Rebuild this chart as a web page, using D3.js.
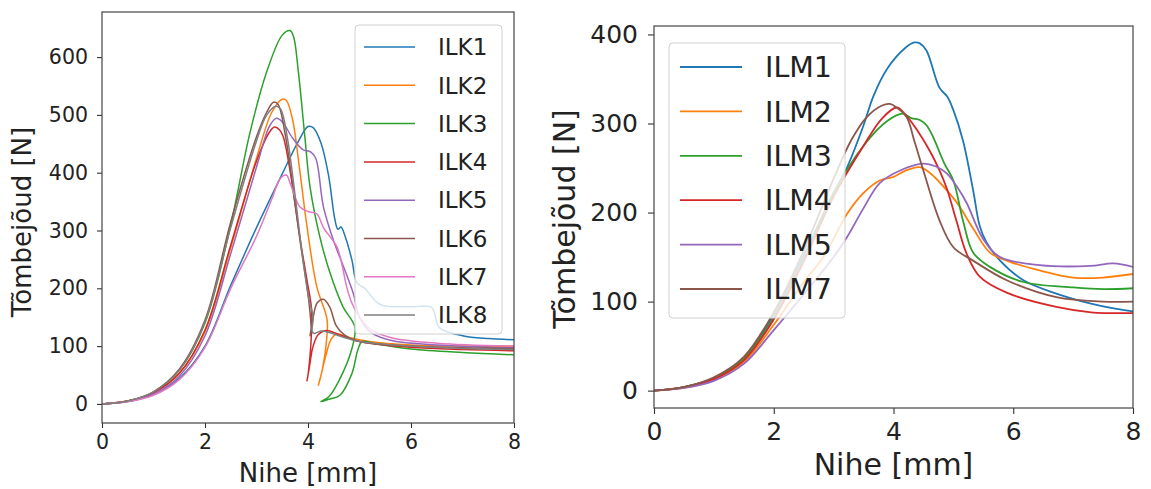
<!DOCTYPE html>
<html><head><meta charset="utf-8">
<script src="https://cdn.jsdelivr.net/npm/d3@7"></script>
<style>
html,body{margin:0;padding:0;background:#fff;}
svg text{font-family:"DejaVu Sans",sans-serif;fill:#222;}
</style></head>
<body><svg id="c" width="1151" height="489"></svg>
<script>
// ---------- DATA ----------
const xTicks = [0, 2, 4, 6, 8];
const leftYTicks = [0, 100, 200, 300, 400, 500, 600];
const rightYTicks = [0, 100, 200, 300, 400];
const xLabel = "Nihe [mm]";
const yLabel = "Tõmbejõud [N]";
const leftNames = ["ILK1","ILK2","ILK3","ILK4","ILK5","ILK6","ILK7","ILK8"];
const rightNames = ["ILM1","ILM2","ILM3","ILM4","ILM5","ILM7"];
const leftColors = ["#1f77b4","#ff7f0e","#2ca02c","#d62728","#9467bd","#8c564b","#e377c2","#7f7f7f"];
const rightColors = ["#1f77b4","#ff7f0e","#2ca02c","#d62728","#9467bd","#8c564b"];

const ilk1 = [[0,0],[0.5,4],[1,16],[1.5,44],[2,100],[2.5,205],[3,305],[3.5,398],[3.8,452],[4.0,480],[4.1,478],[4.25,452],[4.4,395],[4.52,320],[4.58,302],[4.64,306],[4.72,290],[4.85,250],[4.95,210],[5.1,200],[5.4,172],[6.0,168],[6.4,167],[6.55,132],[7,118],[7.5,113],[8,111]];
const ilk2 = [[0,0],[0.5,5],[1,19],[1.5,52],[2,125],[2.5,270],[3,425],[3.3,505],[3.5,527],[3.58,525],[3.7,492],[3.84,404],[3.98,307],[4.17,203],[4.37,146],[4.36,110],[4.28,60],[4.2,32],[4.24,45],[4.35,85],[4.45,112],[4.56,121],[4.8,115],[5.2,108],[6,102],[7,100],[8,100]];
const ilk3 = [[0,0],[0.5,5],[1,20],[1.5,58],[2,140],[2.5,310],[2.87,468],[3.2,575],[3.5,638],[3.65,646],[3.72,635],[3.81,577],[3.94,461],[4.04,375],[4.23,289],[4.43,226],[4.68,168],[4.91,133],[4.85,95],[4.6,40],[4.4,12],[4.25,4],[4.4,8],[4.62,15],[4.85,52],[4.97,94],[5.05,108],[5.3,104],[6,95],[7,89],[8,85]];
const ilk4 = [[0,0],[0.5,5],[1,19],[1.5,53],[2,128],[2.5,275],[3,420],[3.25,470],[3.35,479],[3.45,474],[3.52,462],[3.65,404],[3.84,289],[3.98,214],[4.07,163],[4.06,110],[4.0,50],[3.98,40],[4.02,60],[4.1,100],[4.2,120],[4.35,127],[4.6,120],[5,108],[6,98],[7,94],[8,92]];
const ilk5 = [[0,0],[0.5,4],[1,17],[1.5,48],[2,118],[2.5,260],[3,410],[3.25,480],[3.38,494],[3.5,488],[3.7,460],[3.9,440],[4.05,436],[4.15,425],[4.3,341],[4.49,284],[4.7,235],[4.88,191],[5.0,150],[5.2,125],[5.6,110],[6.5,102],[8,97]];
const ilk6 = [[0,0],[0.5,5],[1,21],[1.5,60],[2,145],[2.5,315],[3,462],[3.2,505],[3.33,522],[3.42,518],[3.55,470],[3.7,380],[3.85,280],[4.0,190],[4.06,130],[4.04,118],[4.1,150],[4.18,175],[4.3,181],[4.42,168],[4.55,135],[4.7,120],[5,108],[6,100],[7,97],[8,96]];
const ilk7 = [[0,0],[0.5,4],[1,15],[1.5,42],[2,98],[2.5,200],[3,290],[3.3,355],[3.46,390],[3.58,396],[3.66,380],[3.84,341],[4.0,333],[4.17,329],[4.3,305],[4.56,272],[4.65,245],[4.75,203],[4.85,175],[5.0,150],[5.2,130],[5.6,115],[6.5,105],[8,100]];
const ilk8 = [[0,0],[0.5,5],[1,21],[1.5,58],[2,142],[2.5,305],[3,455],[3.2,500],[3.38,515],[3.47,510],[3.6,460],[3.75,360],[3.9,250],[4.02,180],[4.1,150],[4.08,125],[4.12,122],[4.25,126],[4.4,124],[4.7,115],[5,108],[6,100],[7,96],[8,94]];

const ilm1 = [[0,0],[0.5,4],[1,14],[1.5,37],[2,85],[2.5,152],[3,222],[3.22,250],[3.5,298],[3.66,330],[3.9,362],[4.2,385],[4.35,391],[4.44,390],[4.55,382],[4.77,340],[4.9,330],[5.0,315],[5.16,281],[5.33,225],[5.44,185],[5.55,167],[5.78,146],[6.17,124],[6.72,109],[7.28,98],[7.7,92],[8,89]];
const ilm2 = [[0,0],[0.5,3],[1,12],[1.5,32],[2,74],[2.5,122],[2.83,150],[3.22,198],[3.5,222],[3.77,236],[4.0,240],[4.2,247],[4.44,251],[4.6,245],[4.77,234],[5.05,212],[5.33,182],[5.61,155],[5.89,146],[6.44,135],[7.0,127],[7.5,127],[8,131]];
const ilm3 = [[0,0],[0.5,4],[1,14],[1.5,36],[2,82],[2.5,148],[3,222],[3.5,275],[3.9,303],[4.16,311],[4.3,306],[4.44,304],[4.55,298],[4.66,285],[4.85,255],[5.0,236],[5.16,191],[5.33,155],[5.61,139],[6.17,122],[7,116],[7.5,114],[8,115]];
const ilm4 = [[0,0],[0.5,4],[1,13],[1.5,34],[2,80],[2.5,145],[3,218],[3.5,275],[3.8,305],[4.05,318],[4.2,310],[4.39,293],[4.6,270],[4.77,247],[4.9,225],[5.05,191],[5.22,154],[5.44,128],[5.89,110],[6.72,94],[7.3,88],[8,87]];
const ilm5 = [[0,0],[0.5,3],[1,11],[1.5,30],[2,68],[2.5,108],[3,150],[3.22,172],[3.5,205],[3.77,233],[4.1,247],[4.5,255],[4.7,252],[4.89,244],[5.05,230],[5.22,211],[5.5,170],[5.78,150],[6.44,141],[7.28,140],[7.67,143],[8,139]];
const ilm7 = [[0,0],[0.5,4],[1,15],[1.5,38],[2,88],[2.5,157],[3,238],[3.3,282],[3.55,307],[3.8,320],[3.94,322],[4.05,318],[4.22,307],[4.35,280],[4.5,247],[4.77,191],[5.0,161],[5.33,146],[5.89,124],[6.72,105],[7.5,100],[8,100]];

const leftSeries = [ilk1, ilk2, ilk3, ilk4, ilk5, ilk6, ilk7, ilk8];
const rightSeries = [ilm1, ilm2, ilm3, ilm4, ilm5, ilm7];

// ---------- DRAW ----------
const svg = d3.select("#c");

function panel(cfg) {
  const g = svg.append("g");
  const x = d3.scaleLinear().domain([0, 8]).range([cfg.x0, cfg.x1]);
  const y = d3.scaleLinear().domain(cfg.yDomain).range([cfg.y1, cfg.y0]);
  const id = "clip" + cfg.key;
  svg.append("defs").append("clipPath").attr("id", id)
    .append("rect").attr("x", cfg.x0).attr("y", cfg.y0)
    .attr("width", cfg.x1 - cfg.x0).attr("height", cfg.y1 - cfg.y0);

  const line = d3.line().x(d => x(d[0])).y(d => y(d[1])).curve(d3.curveCatmullRom.alpha(0.5));
  const lg = g.append("g").attr("clip-path", `url(#${id})`);
  cfg.series.forEach((s, i) => {
    lg.append("path").attr("d", line(s)).attr("fill", "none")
      .attr("stroke", cfg.colors[i]).attr("stroke-width", cfg.lw)
      .attr("stroke-linejoin", "round");
  });

  // axes
  const xa = g.append("g").attr("transform", `translate(0,${cfg.y1})`)
    .call(d3.axisBottom(x).tickValues(xTicks).tickFormat(d3.format("d")).tickSize(cfg.tick).tickPadding(cfg.xPad));
  const ya = g.append("g").attr("transform", `translate(${cfg.x0},0)`)
    .call(d3.axisLeft(y).tickValues(cfg.yTicks).tickFormat(d3.format("d")).tickSize(cfg.tick).tickPadding(cfg.yPad));
  [xa, ya].forEach(a => {
    a.attr("font-size", null).attr("font-family", null);
    a.select(".domain").remove();
    a.selectAll(".tick line").attr("stroke", "#333").attr("stroke-width", 1.1);
    a.selectAll(".tick text").style("font-size", cfg.tickFont + "px").style("fill", "#222")
      .style("font-family", "DejaVu Sans");
  });
  // frame
  g.append("rect").attr("x", cfg.x0).attr("y", cfg.y0)
    .attr("width", cfg.x1 - cfg.x0).attr("height", cfg.y1 - cfg.y0)
    .attr("fill", "none").attr("stroke", "#444").attr("stroke-width", 1.2);

  // labels
  g.append("text").attr("x", (cfg.x0 + cfg.x1) / 2).attr("y", cfg.xlabY)
    .attr("text-anchor", "middle").style("font-size", cfg.labFont + "px").text(xLabel);
  g.append("text").attr("transform", `translate(${cfg.ylabX},${cfg.ylabY}) rotate(-90)`)
    .attr("text-anchor", "middle").style("font-size", cfg.labFont + "px").text(yLabel);

  // legend
  const L = cfg.legend;
  const leg = g.append("g");
  leg.append("rect").attr("x", L.x).attr("y", L.y).attr("width", L.w).attr("height", L.h)
    .attr("rx", 4).attr("fill", "#fff").attr("fill-opacity", 0.8)
    .attr("stroke", "#d0d0d0").attr("stroke-width", 1);
  cfg.names.forEach((n, i) => {
    const cy = L.row0 + i * L.step;
    leg.append("line").attr("x1", L.hx0).attr("x2", L.hx1).attr("y1", cy).attr("y2", cy)
      .attr("stroke", cfg.colors[i]).attr("stroke-width", cfg.lw);
    leg.append("text").attr("x", L.tx).attr("y", cy).attr("dy", "0.36em")
      .style("font-size", L.font + "px").text(n);
  });
}

panel({
  key: "L", x0: 102, x1: 514, y0: 12, y1: 423, yDomain: [-33, 678],
  series: leftSeries, colors: leftColors, names: leftNames, yTicks: leftYTicks,
  lw: 1.5, tick: 5, xPad: 6, yPad: 9, tickFont: 20.5, labFont: 26,
  xlabY: 482, ylabX: 31, ylabY: 222,
  legend: {x: 355, y: 25, w: 147, h: 309, row0: 47, step: 38.3, hx0: 364, hx1: 415, tx: 438, font: 23}
});
panel({
  key: "R", x0: 654, x1: 1133, y0: 26, y1: 408, yDomain: [-19.5, 409.5],
  series: rightSeries, colors: rightColors, names: rightNames, yTicks: rightYTicks,
  lw: 1.8, tick: 6, xPad: 8, yPad: 10, tickFont: 25, labFont: 30,
  xlabY: 475, ylabX: 575, ylabY: 219,
  legend: {x: 669, y: 43, w: 176, h: 275, row0: 67, step: 44.4, hx0: 680, hx1: 742, tx: 765, font: 28.5}
});
</script></body></html>
